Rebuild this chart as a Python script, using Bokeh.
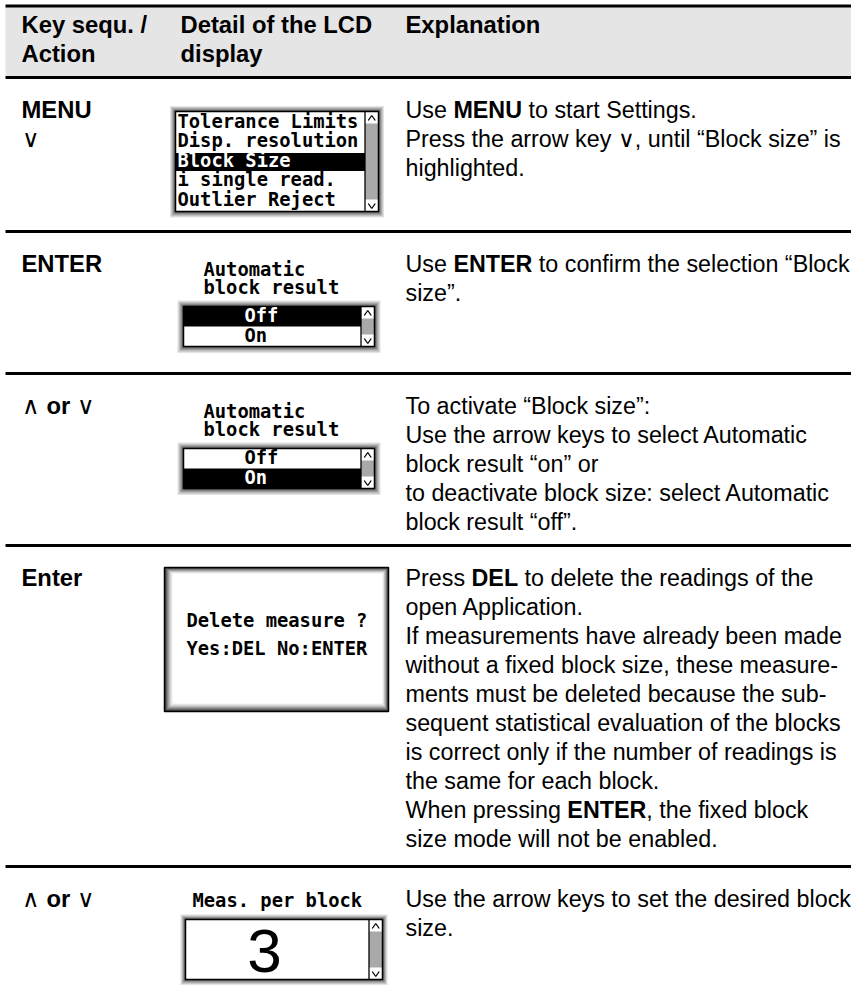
from bokeh.plotting import figure
from bokeh.models import Range1d
from bokeh.core.properties import value
from bokeh.embed import file_html
from bokeh.resources import INLINE

# ---------------- content ----------------
HEADER_KEY = ["Key sequ. /", "Action"]
HEADER_LCD = ["Detail of the LCD", "display"]
HEADER_EXPL = ["Explanation"]

KEY_TEXT = [
    ["**MENU**", "∨"],
    ["**ENTER**"],
    ["∧ **or** ∨"],
    ["**Enter**"],
    ["∧ **or** ∨"],
]

EXPL_TEXT = [
    ["Use **MENU** to start Settings.",
     "Press the arrow key ∨, until “Block size” is",
     "highlighted."],
    ["Use **ENTER** to confirm the selection “Block",
     "size”."],
    ["To activate “Block size”:",
     "Use the arrow keys to select Automatic",
     "block result “on” or",
     "to deactivate block size: select Automatic",
     "block result “off”."],
    ["Press **DEL** to delete the readings of the",
     "open Application.",
     "If measurements have already been made",
     "without a fixed block size, these measure-",
     "ments must be deleted because the sub-",
     "sequent statistical evaluation of the blocks",
     "is correct only if the number of readings is",
     "the same for each block.",
     "When pressing **ENTER**, the fixed block",
     "size mode will not be enabled."],
    ["Use the arrow keys to set the desired block",
     "size."],
]

MENU_ITEMS = ["Tolerance Limits", "Disp. resolution", "Block Size",
              "i single read.", "Outlier Reject"]
MENU_SELECTED = 2
TOGGLE_TITLE = ["Automatic", "block result"]
TOGGLE_OPTIONS = ["Off", "On"]
TOGGLE_SELECTED = {1: 0, 2: 1}          # table row -> highlighted option
DIALOG_LINES = ["Delete measure ?", "Yes:DEL No:ENTER"]
VALUE_TITLE = "Meas. per block"
VALUE_SHOWN = "3"

# ---------------- layout / style ----------------
W, H = 851, 988
HEADER_TOP = 5.5
ROW_TOPS = [77, 231, 373, 545, 866]
COL_X = [21, 180, 405]
RULE_X = (5, 854)
LINE_H = 29
FIRST_BASE = 40
HEAD_BASE = 32
SIZE_HEAD = 23.8
SIZE_BODY = 23.3
SANS = "Liberation Sans"
MONO = "DejaVu Sans Mono"
MONO_SIZE = 18.8
LCD_LINE = 19.5
SB_W = 13.5
HEADER_FILL = "#e5e5e5"
BASELINE_SHIFT = 0.34   # renderer places text lower than the alphabetic line

REG_W = {' ': .278, 'U': .722, 's': .5, 'e': .556, 'P': .667, 'r': .333,
         'W': .944, 'h': .556, 'n': .556, 'p': .556, 'i': .222, 'g': .556,
         '∧': .77, '∨': .77}
BOLD_W = {' ': .278, 'M': .833, 'E': .667, 'N': .722, 'U': .722, 'T': .611,
          'R': .722, 'D': .722, 'L': .611, 'o': .611, 'r': .389, 'n': .611,
          't': .333, 'e': .556}


def text_w(s, bold, size):
    table = BOLD_W if bold else REG_W
    return sum(table.get(c, .556) for c in s) * size


texts = {}
rects = []      # filled rectangles in z-order
borders = []    # outlined rectangles
thin = []       # thin polylines


def add_text(x, y, s, font=SANS, size=SIZE_BODY, style="normal",
             color="black", align="left"):
    key = (font, size, style, color, align)
    d = texts.setdefault(key, {"x": [], "y": [], "text": []})
    d["x"].append(x)
    d["y"].append(y - BASELINE_SHIFT * size)
    d["text"].append(s)


def add_rich(x, y, line, size):
    for i, part in enumerate(line.split("**")):
        bold = i % 2 == 1
        core = part.strip(" ")
        lead = len(part) - len(part.lstrip(" "))
        x += text_w(" " * lead, bold, size)
        if core:
            add_text(x, y, core, size=size,
                     style="bold" if bold else "normal")
            x += text_w(core, bold, size)
            trail = len(part) - len(part.rstrip(" "))
            x += text_w(" " * trail, bold, size)


GLOW = ["#e4e4e4", "#cdcdcd", "#b3b3b3", "#969696", "#787878", "#5a5a5a"]
INSET = ["#3a3a3a", "#555555", "#737373", "#929292", "#afafaf",
         "#c9c9c9", "#dedede", "#eeeeee"]


def lerp_rect(a, b, f):
    return tuple(a[k] + (b[k] - a[k]) * f for k in range(4))


def gradient(outer, inner, shades):
    n = len(shades)
    for i, c in enumerate(shades):
        l, r, t, b = lerp_rect(outer, inner, i / n)
        rects.append((l, r, t, b, c))


def glow_box(inner, pad):
    l, r, t, b = inner
    gradient((l - pad, r + pad, t - pad, b + pad + 0.5), inner, GLOW)
    rects.append((l, r, t, b, "white"))
    borders.append(inner)


def scrollbar(inner):
    l, r, t, b = inner
    sl = r - SB_W
    cell = 12
    rects.append((sl, r, t + cell, b - cell, "#a9a9a9"))
    thin.append(([sl, sl], [t, b]))
    cx = (sl + r) / 2
    thin.append(([cx - 3.5, cx, cx + 3.5], [t + 9, t + 4, t + 9]))
    thin.append(([cx - 3.5, cx, cx + 3.5], [b - 8, b - 3, b - 8]))
    return sl


# ---------------- header ----------------
rects.append((RULE_X[0], RULE_X[1], HEADER_TOP, ROW_TOPS[0], HEADER_FILL))
for col, lines in zip(COL_X, [HEADER_KEY, HEADER_LCD, HEADER_EXPL]):
    for j, s in enumerate(lines):
        add_text(col, HEAD_BASE + j * LINE_H, s, size=SIZE_HEAD, style="bold")

# ---------------- key + explanation columns ----------------
for r, top in enumerate(ROW_TOPS):
    for j, line in enumerate(KEY_TEXT[r]):
        add_rich(COL_X[0], top + FIRST_BASE + j * LINE_H, line, SIZE_HEAD)
    for j, line in enumerate(EXPL_TEXT[r]):
        add_rich(COL_X[2], top + FIRST_BASE + j * LINE_H, line, SIZE_BODY)

# ---------------- LCD 1 : menu list ----------------
top = ROW_TOPS[0]
inner = (175, 378, top + 34, top + 134)
glow_box(inner, 5.5)
sl = scrollbar(inner)
for i, item in enumerate(MENU_ITEMS):
    base = inner[2] + 16 + i * LCD_LINE
    sel = i == MENU_SELECTED
    if sel:
        rects.append((inner[0], sl, base - 13.5, base + 4.5, "black"))
    add_text(inner[0] + 2, base, item, font=MONO, size=MONO_SIZE,
             style="bold", color="white" if sel else "black")

# ---------------- LCD 2/3 : toggles ----------------
for r, selected in TOGGLE_SELECTED.items():
    top = ROW_TOPS[r]
    for j, s in enumerate(TOGGLE_TITLE):
        add_text(203, top + 44 + j * 18.5, s, font=MONO, size=MONO_SIZE,
                 style="bold")
    inner = (183, 374, top + 75, top + 115)
    glow_box(inner, 6)
    sl = scrollbar(inner)
    rh = (inner[3] - inner[2]) / len(TOGGLE_OPTIONS)
    for i, opt in enumerate(TOGGLE_OPTIONS):
        rt = inner[2] + i * rh
        sel = i == selected
        if sel:
            rects.append((inner[0], sl, rt, rt + rh, "black"))
        add_text(244, rt + 15, opt, font=MONO, size=MONO_SIZE, style="bold",
                 color="white" if sel else "black")

# ---------------- LCD 4 : dialog ----------------
top = ROW_TOPS[3]
outer = (164, 388, top + 22, top + 166)
inner = (172, 382, top + 28, top + 158)
gradient(outer, inner, INSET)
rects.append(inner + ("white",))
borders.append(outer)
for j, s in enumerate(DIALOG_LINES):
    add_text(186, top + 81 + j * 28, s, font=MONO, size=MONO_SIZE,
             style="bold")

# ---------------- LCD 5 : value ----------------
top = ROW_TOPS[4]
add_text(192, top + 40, VALUE_TITLE, font=MONO, size=MONO_SIZE, style="bold")
inner = (185, 382, top + 53, top + 113)
glow_box(inner, 5)
sl = scrollbar(inner)
add_text(264, top + 105.5, VALUE_SHOWN, font=SANS, size=62, align="center")

# ---------------- figure ----------------
p = figure(width=W, height=H, output_backend="svg", toolbar_location=None,
           x_range=Range1d(0, W), y_range=Range1d(H, 0),
           x_axis_type=None, y_axis_type=None, min_border=0)
p.grid.visible = False
p.outline_line_color = None
p.background_fill_color = "white"
p.border_fill_color = "white"

p.quad(left=[q[0] for q in rects], right=[q[1] for q in rects],
       top=[q[2] for q in rects], bottom=[q[3] for q in rects],
       fill_color=[q[4] for q in rects], line_color=None)
p.quad(left=[q[0] for q in borders], right=[q[1] for q in borders],
       top=[q[2] for q in borders], bottom=[q[3] for q in borders],
       fill_color=None, line_color="black", line_width=1.5)
p.multi_line(xs=[t[0] for t in thin], ys=[t[1] for t in thin],
             line_color="black", line_width=1.3)

rule_y = [HEADER_TOP] + ROW_TOPS
p.segment(x0=[RULE_X[0]] * len(rule_y), x1=[RULE_X[1]] * len(rule_y),
          y0=rule_y, y1=rule_y, line_color="black", line_width=2.8)

for (font, size, style, color, align), d in texts.items():
    p.text(x=d["x"], y=d["y"], text=d["text"], text_font=value(font),
           text_font_size=value(f"{size}px"), text_font_style=style,
           text_color=color, text_align=align, text_baseline="alphabetic")

open("out.html", "w").write(file_html(p, INLINE))
